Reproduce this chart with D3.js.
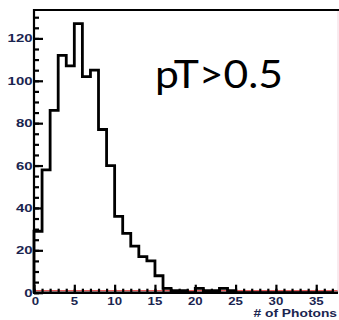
<!DOCTYPE html>
<html><head><meta charset="utf-8">
<script src="https://cdn.jsdelivr.net/npm/d3@7"></script>
<style>html,body{margin:0;padding:0;background:#fff;overflow:hidden}</style>
</head><body><svg id="c" width="339" height="320"></svg>
<script>
// Data: counts per bin of width 1, starting at 0
const binStart = 0;
const binWidth = 1;
const counts = [29,58,86,112,107,127,102,105,77,60,36,28,22,17,15,8,2,1,1,0,2,1,1,2,1,0,0,0,0,0,0,0,0,0,0,0,0];
const xTicks = [0,5,10,15,20,25,30,35];
const yTicks = [0,20,40,60,80,100,120];
const xTitle = "# of Photons";
const annotation = "pT>0.5";

const svg = d3.select("#c");
const L = 34, R = 338, T = 10, B = 292.7;
const x = d3.scaleLinear().domain([0, 37.7]).range([L, R]);
const y = d3.scaleLinear().domain([0, 133.4]).range([B, T]);
const labelColor = "#1a2550";

// red baseline line
svg.append("line").attr("x1", L).attr("x2", R).attr("y1", B - 2).attr("y2", B - 2)
  .attr("stroke", "#e03535").attr("stroke-width", 1);

// histogram step path
const pts = [[x(binStart), y(0)]];
counts.forEach((c, i) => {
  const x0 = x(binStart + i * binWidth), x1 = x(binStart + (i + 1) * binWidth);
  pts.push([x0, y(c)]); pts.push([x1, y(c)]);
});
pts.push([x(binStart + counts.length * binWidth), y(0)]);
svg.append("path").attr("d", d3.line()(pts)).attr("fill", "none")
  .attr("stroke", "#000").attr("stroke-width", 2.8).attr("stroke-linejoin", "miter");

// frame
svg.append("line").attr("x1", R).attr("x2", R).attr("y1", T).attr("y2", B)
  .attr("stroke", "#f2d6de").attr("stroke-width", 1);
svg.append("line").attr("x1", L - 1).attr("x2", R + 1).attr("y1", T).attr("y2", T)
  .attr("stroke", "#000").attr("stroke-width", 2);

// axes with d3
const yMinor = d3.range(0, 131, 5);
const xMinor = d3.range(0, 38, 1);
const yAxisMinor = d3.axisRight(y).tickValues(yMinor).tickSize(5).tickFormat("");
const yAxisMajor = d3.axisRight(y).tickValues(yTicks).tickSize(9).tickFormat("");
const xAxisMinor = d3.axisTop(x).tickValues(xMinor).tickSize(4).tickFormat("");
const xAxisMajor = d3.axisTop(x).tickValues(xTicks).tickSize(8).tickFormat("");
[yAxisMinor, yAxisMajor].forEach(a => {
  const g = svg.append("g").attr("transform", `translate(${L},0)`).call(a);
  g.selectAll("line").attr("stroke", "#000").attr("stroke-width", 2.2);
  g.select(".domain").remove();
});
[xAxisMinor, xAxisMajor].forEach(a => {
  const g = svg.append("g").attr("transform", `translate(0,${B})`).call(a);
  g.selectAll("line").attr("stroke", "#000").attr("stroke-width", 2.2);
  g.select(".domain").remove();
});
svg.append("line").attr("x1", L).attr("x2", L).attr("y1", T - 1).attr("y2", B + 1)
  .attr("stroke", "#000").attr("stroke-width", 2.2);
svg.append("line").attr("x1", L - 1).attr("x2", R).attr("y1", B).attr("y2", B)
  .attr("stroke", "#000").attr("stroke-width", 2.4);

// y tick labels
yTicks.forEach(v => {
  const yy = y(v) + 4;
  svg.append("text").attr("transform", `translate(${L - 1.5},${yy}) scale(1.45,1)`)
    .attr("text-anchor", "end").attr("font-family", "Liberation Sans, Arial, sans-serif")
    .attr("font-weight", "bold").attr("font-size", 10.3).attr("fill", labelColor).text(v);
});
// x tick labels
xTicks.forEach(v => {
  svg.append("text").attr("transform", `translate(${x(v) + (v === 0 ? 1.5 : 0)},${B + 12.5}) scale(1.15,1)`)
    .attr("text-anchor", "middle").attr("font-family", "Liberation Sans, Arial, sans-serif")
    .attr("font-weight", "bold").attr("font-size", 11.5).attr("fill", labelColor).text(v);
});
// x title
svg.append("text").attr("transform", `translate(337,${B + 24}) scale(1.2,1)`)
  .attr("text-anchor", "end").attr("font-family", "Liberation Sans, Arial, sans-serif")
  .attr("font-weight", "bold").attr("font-size", 11.5).attr("fill", labelColor).text(xTitle);

// annotation
svg.append("text").attr("x", 155).attr("y", 88).attr("font-family", "Lato, sans-serif")
  .attr("font-size", 39).attr("textLength", 128).attr("lengthAdjust", "spacingAndGlyphs")
  .attr("fill", "#000").text(annotation);
</script></body></html>
